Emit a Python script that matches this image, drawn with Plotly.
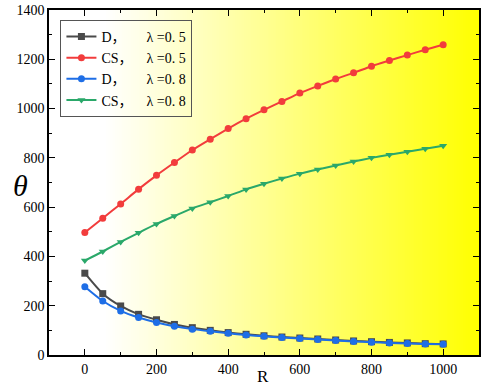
import plotly.graph_objects as go
import numpy as np

R = [0, 50, 100, 150, 200, 250, 300, 350, 400, 450, 500, 550, 600, 650, 700, 750, 800, 850, 900, 950, 1000]
D_05 = [332, 249, 199, 165, 143, 124, 111, 100, 91, 84, 78, 73, 69, 65, 61, 57, 54, 51, 49, 46, 45]
CS_05 = [497, 555, 613, 673, 729, 781, 832, 876, 919, 959, 995, 1029, 1063, 1092, 1120, 1145, 1172, 1195, 1217, 1239, 1259]
D_08 = [277, 219, 179, 152, 132, 117, 105, 96, 88, 81, 76, 71, 67, 63, 59, 55, 52, 49, 47, 45, 44]
CS_08 = [383, 420, 459, 496, 532, 564, 595, 620, 645, 672, 695, 716, 736, 753, 769, 785, 800, 813, 825, 837, 849]

x_ticks = [0, 200, 400, 600, 800, 1000]
y_ticks = [0, 200, 400, 600, 800, 1000, 1200, 1400]

font_fam = "Liberation Serif, DejaVu Serif, Noto Sans CJK SC, serif"

fig = go.Figure()

# background gradient (white -> yellow), built from many narrow heatmap columns
edges = np.arange(-110, 1115, 5.0)
centers = (edges[:-1] + edges[1:]) / 2
fig.add_trace(go.Heatmap(
    x=edges, y=[-10, 1410], z=[centers], zsmooth=False,
    zmin=-100, zmax=1100,
    colorscale=[[0, "#ffffff"], [0.13, "#ffffff"], [1, "#ffff00"]],
    showscale=False, hoverinfo="skip", showlegend=False))

series = [
    ("D，      λ =0. 5", D_05, "#4a4a4a", "square"),
    ("CS，    λ =0. 5", CS_05, "#f23c3c", "circle"),
    ("D，      λ =0. 8", D_08, "#1e6ee6", "circle"),
    ("CS，    λ =0. 8", CS_08, "#2aa86a", "triangle-down"),
]
for name, ys, col, sym in series:
    fig.add_trace(go.Scatter(
        x=R, y=ys, name=name, mode="lines+markers",
        line=dict(color=col, width=2, shape="spline", smoothing=0.6),
        marker=dict(color=col, symbol=sym, size=7)))

axis_common = dict(
    showgrid=False, zeroline=False, showline=True, linecolor="black", linewidth=1.6,
    mirror="ticks", ticks="inside", ticklen=6, tickwidth=1.3, tickcolor="black",
    tickfont=dict(family=font_fam, size=14, color="black"),
    ticklabeloverflow="allow",
    minor=dict(ticks="inside", ticklen=3.5, tickwidth=1.2, tickcolor="black"),
)

fig.update_xaxes(range=[-100, 1100], tickvals=x_ticks, **axis_common)
fig.update_yaxes(range=[0, 1400], tickvals=y_ticks, **axis_common)
fig.update_xaxes(minor_dtick=100, minor_tick0=0)
fig.update_yaxes(minor_dtick=100, minor_tick0=0)

PW, PH = 432.5, 350

fig.update_layout(
    width=484, height=388,
    margin=dict(l=48.5, r=3, t=5, b=33),
    paper_bgcolor="white", plot_bgcolor="white",
    showlegend=True,
    legend=dict(x=(60 - 48.5) / PW, y=1 - (15 - 5) / PH, xanchor="left", yanchor="top",
                bgcolor="rgba(255,255,255,0)", bordercolor="#555555", borderwidth=1,
                font=dict(family=font_fam, size=14, color="black"),
                tracegroupgap=0),
    annotations=[
        dict(text="<i>θ</i>", x=(20 - 48.5) / PW, y=1 - (183 - 5) / PH,
             xref="paper", yref="paper", showarrow=False, xanchor="center", yanchor="middle",
             font=dict(family=font_fam, size=30, color="black")),
        dict(text="R", x=(264 - 48.5) / PW, y=-(377 - 355) / PH,
             xref="paper", yref="paper", showarrow=False, xanchor="center", yanchor="middle",
             font=dict(family=font_fam, size=17, color="black")),
    ],
)

fig.write_html("out.html", config={"displayModeBar": False},
               post_script=("document.documentElement.style.overflow='hidden';"
                            "document.body.style.margin='0';document.body.style.overflow='hidden';"))
